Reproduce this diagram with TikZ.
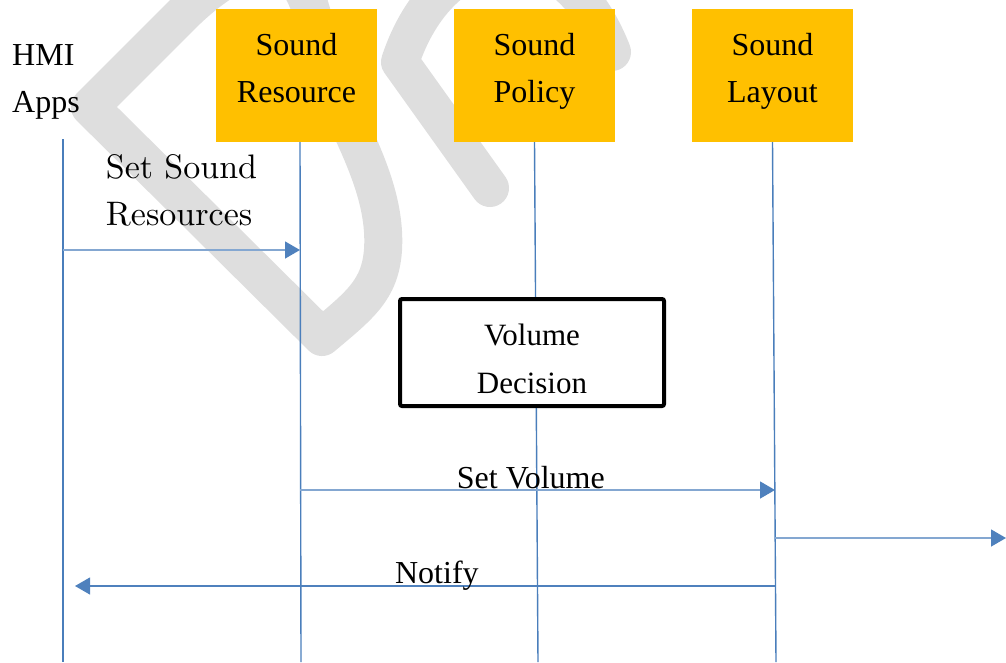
\documentclass[tikz,border=0pt]{standalone}
\usepackage{fontspec}
\usepackage{tikz}
\usetikzlibrary{arrows.meta}
\newfontfamily\timesfont{Liberation Serif}
\newfontfamily\lmten[Extension=.otf]{lmroman10-regular}
\definecolor{amber}{HTML}{FFC000}
\definecolor{lifeblue}{HTML}{4A7EBB}
\definecolor{msgblue}{HTML}{4F81BD}
\definecolor{wmgray}{HTML}{DEDEDE}
\newcommand{\twoline}[3][c]{\begin{tabular}[t]{@{}#1@{}}#2\\#3\end{tabular}}

\begin{document}
\begin{tikzpicture}[x=1pt,y=-1pt,
  sbox/.style={fill=amber, inner sep=0pt, minimum width=161pt, text height=46pt, text depth=87pt, font=\timesfont\fontsize{32}{47}\selectfont},
  life/.style={draw=lifeblue, line width=1.4pt},
  msg/.style={draw=msgblue!70, line width=1.4pt, -{Triangle[length=15pt,width=17pt,color=msgblue]}},
  lbl/.style={inner sep=0pt, anchor=base, font=\timesfont\fontsize{32}{47}\selectfont},
  wmark/.style={draw=wmgray, line width=38pt, line join=round, line cap=round}]
\useasboundingbox (0,0) rectangle (1006,662);
% watermark
\begin{scope}
\clip (0,0) rectangle (1006,662);
\draw[wmark] (90,107) -- (185,12) .. controls (260,-60) and (305,-40) .. (315,30) .. controls (325,100) and (388,170) .. (383,250) .. controls (380,290) and (360,305) .. (322,337) -- cycle;
\draw[wmark] (490,188) -- (400,62) .. controls (440,-60) and (560,-80) .. (612,52);
\end{scope}

% participants
\node[anchor=base west, inner sep=0pt, font=\timesfont\fontsize{32}{47}\selectfont] (hmi) at (12,65) {\twoline[l]{HMI}{Apps}};
\node[sbox] (res) at (296.5,75.5) {\twoline{Sound}{Resource}};
\node[sbox] (pol) at (534.5,75.5) {\twoline{Sound}{Policy}};
\node[sbox] (lay) at (772.5,75.5) {\twoline{Sound}{Layout}};

\coordinate (hmitop) at (63,139);
\coordinate (hmibot) at (63,662);
\coordinate (resbot) at (301,662);
\coordinate (polbot) at (538,662);
\coordinate (laybot) at (776,662);

% lifelines
\draw[life] (hmitop) -- (hmibot);
\draw[life] ([xshift=3.5pt]res.south) -- (resbot);
\draw[life] (pol.south) -- (polbot);
\draw[life] (lay.south) -- (laybot);

\node[draw, line width=4pt, rounded corners=2pt, fill=white, inner sep=0pt, minimum width=264pt, text height=46pt, text depth=61pt, font=\timesfont\fontsize{31}{48}\selectfont] (vol) at (532,352.5) {\twoline{Volume}{Decision}};

% messages
\coordinate (m1a) at (63,250);
\coordinate (m1b) at (300,250);
\draw[msg] (m1a) -- node[pos=.5, anchor=base, yshift=72pt, inner sep=0pt, font=\lmten\fontsize{34}{47}\selectfont] (setres) {\twoline[l]{Set Sound}{Resources}} (m1b);

\coordinate (m2a) at (300,490);
\coordinate (m2b) at (775,490);
\draw[msg] (m2a) -- node[lbl, pos=.486, yshift=2pt] (setvol) {Set Volume} (m2b);

\coordinate (m3a) at (775,538);
\coordinate (m3b) at (1006,538);
\draw[msg] (m3a) -- (m3b);

\coordinate (m4a) at (775,586);
\coordinate (m4b) at (75,586);
\draw[msg, draw=msgblue, line width=1.1pt] (m4a) -- node[lbl, pos=.483, yshift=3pt] (notify) {Notify} (m4b);
\end{tikzpicture}
\end{document}
